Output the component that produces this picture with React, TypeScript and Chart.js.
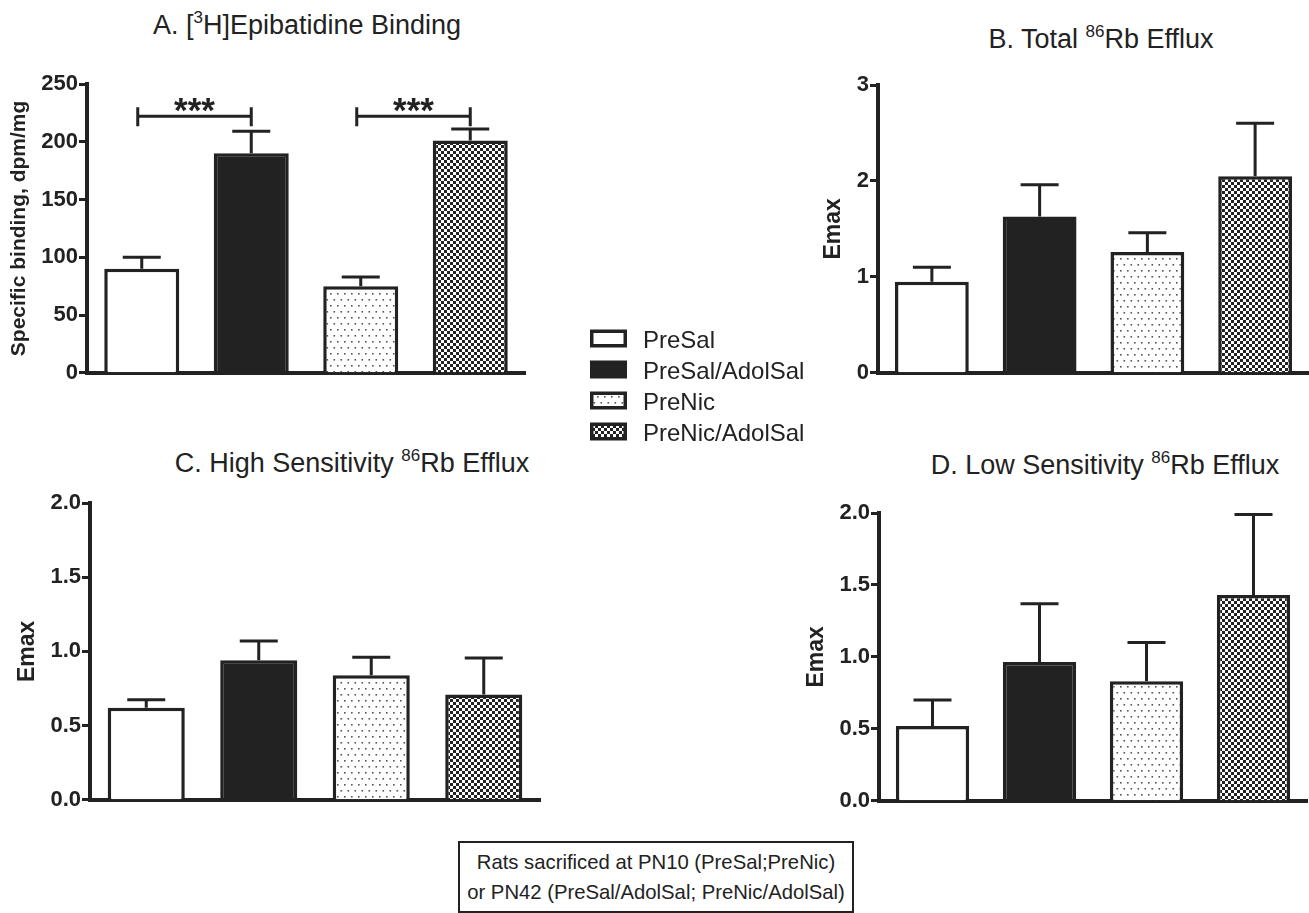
import React, { useEffect, useRef } from "react";
import { Chart, registerables } from "chart.js";
Chart.register(...registerables);

// ---------- data ----------
const groups = ["PreSal", "PreSal/AdolSal", "PreNic", "PreNic/AdolSal"];

const bindingMeans = [90, 190, 75, 201];
const bindingErrTops = [100, 209, 83, 211];

const totalMeans = [0.95, 1.63, 1.26, 2.05];
const totalErrTops = [1.1, 1.96, 1.46, 2.6];

const highMeans = [0.62, 0.94, 0.84, 0.71];
const highErrTops = [0.675, 1.07, 0.96, 0.955];

const lowMeans = [0.52, 0.965, 0.83, 1.43];
const lowErrTops = [0.7, 1.37, 1.1, 1.99];

const ticksA = ["0", "50", "100", "150", "200", "250"];
const ticksB = ["0", "1", "2", "3"];
const ticksCD = ["0.0", "0.5", "1.0", "1.5", "2.0"];

const sigFrom = [0, 2];
const sigTo = [1, 3];
const sigLevel = [222, 222];
const sigLabel = ["***", "***"];

const boxLines = [
  "Rats sacrificed at PN10 (PreSal;PreNic)",
  "or PN42 (PreSal/AdolSal; PreNic/AdolSal)",
];

// ---------- styles ----------
const INK = "#222";
const FONT = "'Liberation Sans', Arial, Helvetica, sans-serif";

function makeDots(): CanvasPattern | string {
  const c = document.createElement("canvas");
  c.width = 7;
  c.height = 12;
  const g = c.getContext("2d");
  if (!g) return "#fff";
  g.fillStyle = "#fff";
  g.fillRect(0, 0, 7, 12);
  g.fillStyle = "#555";
  g.fillRect(1, 1, 1.6, 1.6);
  g.fillRect(4.5, 7, 1.6, 1.6);
  return g.createPattern(c, "repeat") || "#fff";
}

function makeChecker(): CanvasPattern | string {
  const c = document.createElement("canvas");
  c.width = 6;
  c.height = 6;
  const g = c.getContext("2d");
  if (!g) return "#777";
  g.fillStyle = "#fff";
  g.fillRect(0, 0, 6, 6);
  g.fillStyle = INK;
  g.fillRect(0, 0, 3, 3);
  g.fillRect(3, 3, 3, 3);
  return g.createPattern(c, "repeat") || "#777";
}

function fills() {
  return ["#ffffff", INK, makeDots(), makeChecker()];
}

function errorPlugin(tops: number[]) {
  return {
    id: "errorBars",
    afterDatasetsDraw(chart: any) {
      const ctx = chart.ctx;
      const meta = chart.getDatasetMeta(0);
      const y = chart.scales.y;
      ctx.save();
      ctx.strokeStyle = INK;
      ctx.lineWidth = 3;
      meta.data.forEach((bar: any, i: number) => {
        const yt = y.getPixelForValue(tops[i]);
        ctx.beginPath();
        ctx.moveTo(bar.x, bar.y);
        ctx.lineTo(bar.x, yt);
        ctx.moveTo(bar.x - 19, yt);
        ctx.lineTo(bar.x + 19, yt);
        ctx.stroke();
      });
      ctx.restore();
    },
  };
}

const sigPlugin = {
  id: "sigBrackets",
  afterDatasetsDraw(chart: any) {
    const ctx = chart.ctx;
    const meta = chart.getDatasetMeta(0);
    const y = chart.scales.y;
    ctx.save();
    ctx.strokeStyle = INK;
    ctx.fillStyle = INK;
    ctx.lineWidth = 3;
    sigFrom.forEach((f, k) => {
      const x1 = meta.data[f].x - 4;
      const x2 = meta.data[sigTo[k]].x;
      const yy = y.getPixelForValue(sigLevel[k]);
      ctx.beginPath();
      ctx.moveTo(x1, yy);
      ctx.lineTo(x2, yy);
      ctx.moveTo(x1, yy - 9);
      ctx.lineTo(x1, yy + 10);
      ctx.moveTo(x2, yy - 9);
      ctx.lineTo(x2, yy + 10);
      ctx.stroke();
      ctx.font = `bold 35px ${FONT}`;
      ctx.textAlign = "center";
      ctx.textBaseline = "alphabetic";
      ctx.fillText(sigLabel[k], (x1 + x2) / 2, yy + 6);
    });
    ctx.restore();
  },
};

type PanelProps = {
  left: number;
  top: number;
  width: number;
  height: number;
  yWidth: number;
  padRight: number;
  yTitle: string;
  yTitleSize: number;
  yTitlePad: number;
  means: number[];
  errTops: number[];
  min: number;
  max: number;
  step: number;
  tickLabels: string[];
  extra?: any[];
};

function Panel(p: PanelProps) {
  const ref = useRef<HTMLCanvasElement>(null);
  useEffect(() => {
    if (!ref.current) return;
    const chart = new Chart(ref.current, {
      type: "bar",
      data: {
        labels: groups,
        datasets: [
          {
            data: p.means,
            backgroundColor: fills() as any,
            borderColor: INK,
            borderWidth: 3.5,
            borderSkipped: "start",
            barPercentage: 0.685,
            categoryPercentage: 1,
          },
        ],
      },
      options: {
        responsive: false,
        animation: false,
        events: [],
        layout: { padding: { top: 20, right: p.padRight, bottom: 12, left: 0 } },
        plugins: {
          legend: { display: false },
          tooltip: { enabled: false },
          title: { display: false },
        },
        scales: {
          x: {
            ticks: { display: false },
            grid: { display: false },
            border: { display: true, color: INK, width: 4 },
            afterFit: (s: any) => {
              s.height = 0;
            },
          },
          y: {
            min: p.min,
            max: p.max,
            afterFit: (s: any) => {
              s.width = p.yWidth;
            },
            ticks: {
              stepSize: p.step,
              color: INK,
              padding: 1,
              font: { family: FONT, size: 22, weight: "bold" },
              callback: (_v: any, i: number) => p.tickLabels[i],
            },
            grid: {
              display: true,
              drawOnChartArea: false,
              drawTicks: true,
              tickLength: 8,
              tickWidth: 3,
              tickColor: INK,
            },
            border: { display: true, color: INK, width: 4 },
            title: {
              display: true,
              text: p.yTitle,
              color: INK,
              font: { family: FONT, size: p.yTitleSize, weight: "bold" },
              padding: { top: p.yTitlePad, bottom: 0 },
            },
          },
        },
      } as any,
      plugins: [errorPlugin(p.errTops), ...(p.extra || [])],
    });
    return () => chart.destroy();
  }, []);
  return (
    <canvas
      ref={ref}
      width={p.width}
      height={p.height}
      style={{ position: "absolute", left: p.left, top: p.top, width: p.width, height: p.height }}
    />
  );
}

function Title(props: { cx: number; baseline: number; pre: string; sup: string; post: string }) {
  return (
    <div
      style={{
        position: "absolute",
        left: props.cx - 300,
        width: 600,
        top: props.baseline - 23,
        textAlign: "center",
        fontFamily: FONT,
        fontSize: 27,
        lineHeight: "27px",
        color: INK,
        whiteSpace: "nowrap",
      }}
    >
      {props.pre}
      <span style={{ fontSize: 17, position: "relative", top: -11 }}>{props.sup}</span>
      {props.post}
    </div>
  );
}

function LegendSwatches() {
  const ref = useRef<HTMLCanvasElement>(null);
  useEffect(() => {
    const c = ref.current;
    if (!c) return;
    const g = c.getContext("2d");
    if (!g) return;
    const f = fills();
    g.clearRect(0, 0, c.width, c.height);
    groups.forEach((_n, i) => {
      const y = 6.5 + i * 31;
      g.fillStyle = INK;
      g.fillRect(1, y, 37, 18);
      g.fillStyle = f[i] as any;
      g.fillRect(4.5, y + 3.5, 30, 11);
    });
  }, []);
  return (
    <canvas
      ref={ref}
      width={40}
      height={126}
      style={{ position: "absolute", left: 589, top: 323, width: 40, height: 126 }}
    />
  );
}

export default function App() {
  return (
    <div
      style={{
        position: "absolute",
        left: 0,
        top: 0,
        width: 1309,
        height: 913,
        overflow: "hidden",
        background: "#fff",
      }}
    >
      <Title cx={307} baseline={35} pre="A. [" sup="3" post="H]Epibatidine Binding" />
      <Title cx={1101} baseline={49} pre="B. Total " sup="86" post="Rb Efflux" />
      <Title cx={352} baseline={473} pre="C. High Sensitivity " sup="86" post="Rb Efflux" />
      <Title cx={1105} baseline={475} pre="D. Low Sensitivity " sup="86" post="Rb Efflux" />

      <Panel
        left={0}
        top={64}
        width={530}
        height={323}
        yWidth={87}
        padRight={5}
        yTitle="Specific binding, dpm/mg"
        yTitleSize={21}
        yTitlePad={7}
        means={bindingMeans}
        errTops={bindingErrTops}
        min={0}
        max={250}
        step={50}
        tickLabels={ticksA}
        extra={[sigPlugin]}
      />
      <Panel
        left={790}
        top={65}
        width={519}
        height={322}
        yWidth={88}
        padRight={0}
        yTitle="Emax"
        yTitleSize={23}
        yTitlePad={30}
        means={totalMeans}
        errTops={totalErrTops}
        min={0}
        max={3}
        step={1}
        tickLabels={ticksB}
      />
      <Panel
        left={0}
        top={483}
        width={542}
        height={331}
        yWidth={90}
        padRight={2}
        yTitle="Emax"
        yTitleSize={23}
        yTitlePad={14}
        means={highMeans}
        errTops={highErrTops}
        min={0}
        max={2}
        step={0.5}
        tickLabels={ticksCD}
      />
      <Panel
        left={790}
        top={493}
        width={519}
        height={322}
        yWidth={89}
        padRight={2}
        yTitle="Emax"
        yTitleSize={23}
        yTitlePad={13}
        means={lowMeans}
        errTops={lowErrTops}
        min={0}
        max={2}
        step={0.5}
        tickLabels={ticksCD}
      />

      <LegendSwatches />
      <div
        style={{
          position: "absolute",
          left: 643,
          top: 323.5,
          fontFamily: FONT,
          fontSize: 24,
          lineHeight: "31px",
          color: INK,
          whiteSpace: "nowrap",
        }}
      >
        {groups.map((g) => (
          <div key={g}>{g}</div>
        ))}
      </div>

      <div
        style={{
          position: "absolute",
          left: 458,
          top: 841,
          width: 396,
          height: 72,
          boxSizing: "border-box",
          border: `2px solid ${INK}`,
          paddingTop: 4,
          textAlign: "center",
          fontFamily: FONT,
          fontSize: 20.3,
          lineHeight: "30px",
          color: INK,
          whiteSpace: "nowrap",
        }}
      >
        {boxLines.map((l) => (
          <div key={l}>{l}</div>
        ))}
      </div>
    </div>
  );
}
